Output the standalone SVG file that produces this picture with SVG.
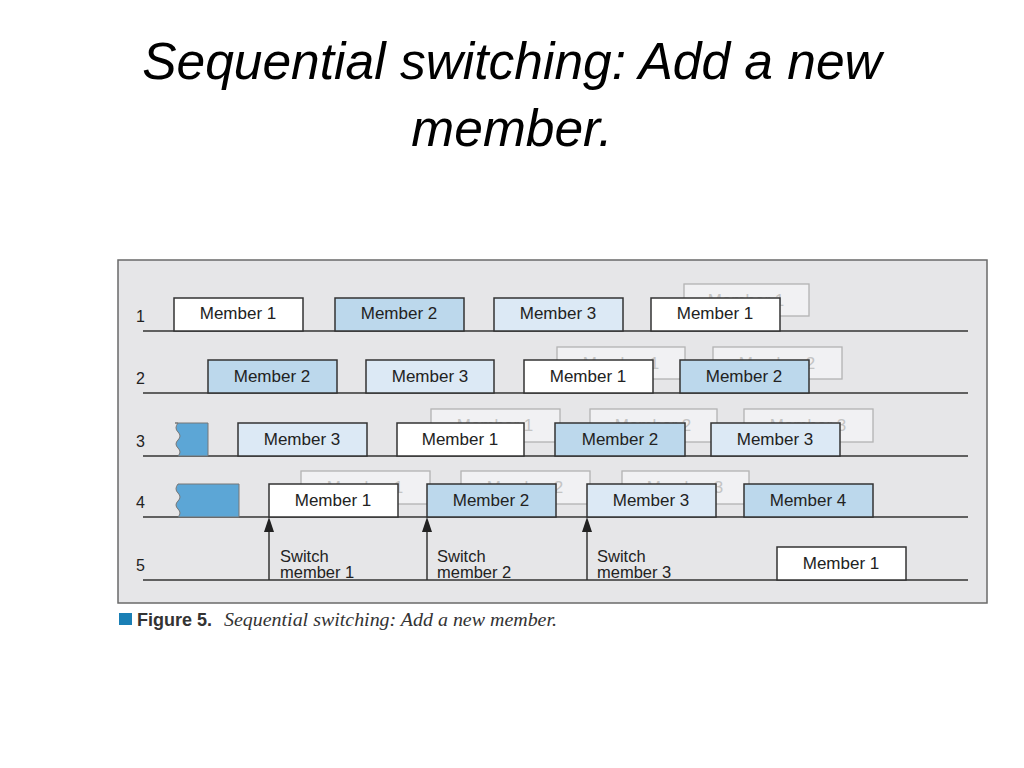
<svg xmlns="http://www.w3.org/2000/svg" width="1024" height="768" viewBox="0 0 1024 768">
<defs>
<style>
.title{font-family:"Liberation Sans",Arial,sans-serif;font-style:italic;font-size:51.5px;fill:#000;text-anchor:middle}
.panel{fill:#e6e6e8;stroke:#6a6a6a;stroke-width:1.5}
.row{stroke:#333;stroke-width:1.5}
.rl{font-family:"Liberation Sans",Arial,sans-serif;font-size:16px;fill:#222}
.box{stroke:#333;stroke-width:1.5}
.w{fill:#fff}
.b{fill:#bcd8ec}
.l{fill:#dce9f5}
.g{fill:#f1f1f3;stroke:#b3b3b3;stroke-width:1.3}
.t{font-family:"Liberation Sans",Arial,sans-serif;font-size:17px;fill:#222;text-anchor:middle}
.gt{font-family:"Liberation Sans",Arial,sans-serif;font-size:17px;fill:#c4c4c4;text-anchor:middle}
.flag{fill:#5ca6d6;stroke:#777;stroke-width:1}
.arr{stroke:#333;stroke-width:1.5;fill:none}
.ah{fill:#222}
.sw{font-family:"Liberation Sans",Arial,sans-serif;font-size:16.5px;fill:#222}
</style>
</defs>
<rect width="1024" height="768" fill="#fff"/>
<text class="title" x="512" y="79">Sequential switching: Add a new</text>
<text class="title" x="512" y="146">member.</text>

<rect class="panel" x="118" y="260" width="869" height="343"/>

<g id="rows">
<line class="row" x1="143" y1="331" x2="968" y2="331"/>
<line class="row" x1="143" y1="393" x2="968" y2="393"/>
<line class="row" x1="143" y1="456" x2="968" y2="456"/>
<line class="row" x1="143" y1="517" x2="968" y2="517"/>
<line class="row" x1="143" y1="580" x2="968" y2="580"/>
<text class="rl" x="136" y="322">1</text>
<text class="rl" x="136" y="384">2</text>
<text class="rl" x="136" y="447">3</text>
<text class="rl" x="136" y="508">4</text>
<text class="rl" x="136" y="571">5</text>
</g>

<g id="ghosts">
<rect class="g" x="684" y="284" width="125" height="32"/><text class="gt" x="746" y="306">Member 1</text>
<rect class="g" x="557" y="347" width="128" height="32"/><text class="gt" x="621" y="369">Member 1</text>
<rect class="g" x="713" y="347" width="129" height="32"/><text class="gt" x="777" y="369">Member 2</text>
<rect class="g" x="431" y="409" width="129" height="33"/><text class="gt" x="495" y="431">Member 1</text>
<rect class="g" x="590" y="409" width="127" height="33"/><text class="gt" x="653" y="431">Member 2</text>
<rect class="g" x="744" y="409" width="129" height="33"/><text class="gt" x="808" y="431">Member 3</text>
<rect class="g" x="301" y="471" width="129" height="33"/><text class="gt" x="365" y="493">Member 1</text>
<rect class="g" x="461" y="471" width="129" height="33"/><text class="gt" x="525" y="493">Member 2</text>
<rect class="g" x="622" y="471" width="127" height="33"/><text class="gt" x="685" y="493">Member 3</text>
</g>

<g id="row1">
<g id="r1m1"><rect class="box w" x="174" y="298" width="129" height="33"/><text class="t" x="238" y="319">Member 1</text></g>
<g id="r1m2"><rect class="box b" x="335" y="298" width="129" height="33"/><text class="t" x="399" y="319">Member 2</text></g>
<g id="r1m3"><rect class="box l" x="494" y="298" width="129" height="33"/><text class="t" x="558" y="319">Member 3</text></g>
<g id="r1m1b"><rect class="box w" x="651" y="298" width="129" height="33"/><text class="t" x="715" y="319">Member 1</text></g>
</g>

<g id="row2">
<g id="r2m2"><rect class="box b" x="208" y="360" width="129" height="33"/><text class="t" x="272" y="382">Member 2</text></g>
<g id="r2m3"><rect class="box l" x="366" y="360" width="128" height="33"/><text class="t" x="430" y="382">Member 3</text></g>
<g id="r2m1"><rect class="box w" x="524" y="360" width="129" height="33"/><text class="t" x="588" y="382">Member 1</text></g>
<g id="r2m2b"><rect class="box b" x="680" y="360" width="129" height="33"/><text class="t" x="744" y="382">Member 2</text></g>
</g>

<g id="row3">
<path id="r3flag" class="flag" d="M175,423 L208,423 L208,456 L178,456 Q182,452 178,448 Q174,444 178,440 Q182,436 178,432 Q174,428 178,423 Z"/>
<g id="r3m3"><rect class="box l" x="238" y="423" width="129" height="33"/><text class="t" x="302" y="445">Member 3</text></g>
<g id="r3m1"><rect class="box w" x="397" y="423" width="127" height="33"/><text class="t" x="460" y="445">Member 1</text></g>
<g id="r3m2"><rect class="box b" x="555" y="423" width="130" height="33"/><text class="t" x="620" y="445">Member 2</text></g>
<g id="r3m3b"><rect class="box l" x="711" y="423" width="129" height="33"/><text class="t" x="775" y="445">Member 3</text></g>
</g>

<g id="row4">
<path id="r4flag" class="flag" d="M178,484 L239,484 L239,517 L178,517 Q182,513 178,509 Q174,505 178,501 Q182,497 178,493 Q174,489 178,484 Z"/>
<g id="r4m1"><rect class="box w" x="269" y="484" width="129" height="33"/><text class="t" x="333" y="506">Member 1</text></g>
<g id="r4m2"><rect class="box b" x="427" y="484" width="129" height="33"/><text class="t" x="491" y="506">Member 2</text></g>
<g id="r4m3"><rect class="box l" x="587" y="484" width="129" height="33"/><text class="t" x="651" y="506">Member 3</text></g>
<g id="r4m4"><rect class="box b" x="744" y="484" width="129" height="33"/><text class="t" x="808" y="506">Member 4</text></g>
</g>

<g id="row5">
<g id="r5m1"><rect class="box w" x="777" y="547" width="129" height="33"/><text class="t" x="841" y="569">Member 1</text></g>
</g>

<g id="connectors">
<line class="arr" x1="269" y1="580" x2="269" y2="528"/>
<polygon class="ah" points="269,517 274,532 264,532"/>
<line class="arr" x1="427" y1="580" x2="427" y2="528"/>
<polygon class="ah" points="427,517 432,532 422,532"/>
<line class="arr" x1="587" y1="580" x2="587" y2="528"/>
<polygon class="ah" points="587,517 592,532 582,532"/>
</g>

<g id="switch-labels">
<text class="sw" x="280" y="562">Switch</text><text class="sw" x="280" y="578">member 1</text>
<text class="sw" x="437" y="562">Switch</text><text class="sw" x="437" y="578">member 2</text>
<text class="sw" x="597" y="562">Switch</text><text class="sw" x="597" y="578">member 3</text>
</g>

<g id="caption">
<rect x="119" y="613" width="13" height="12" fill="#1a7fb5"/>
<text x="137" y="626" font-family="Liberation Sans,Arial,sans-serif" font-weight="bold" font-size="18" fill="#333">Figure 5.</text>
<text x="224" y="626" font-family="Liberation Serif,Times New Roman,serif" font-style="italic" font-size="19" fill="#333" textLength="333" lengthAdjust="spacingAndGlyphs">Sequential switching: Add a new member.</text>
</g>
</svg>
